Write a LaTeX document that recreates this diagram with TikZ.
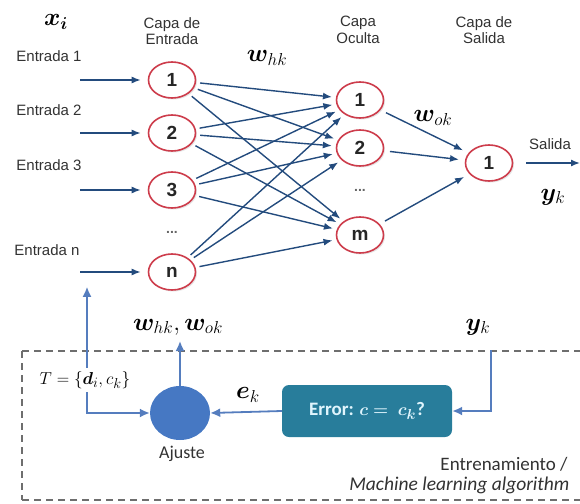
\documentclass[tikz,border=0pt]{standalone}
\usepackage{amsmath}
\usepackage{bm}
\usepackage{fontspec}
\setmainfont{Carlito}
\newfontfamily\arialfont{Liberation Sans}
\usetikzlibrary{shapes.geometric,arrows.meta,shadows}
\definecolor{neuronred}{RGB}{205,60,75}
\definecolor{arrowblue}{RGB}{35,75,125}
\definecolor{fbblue}{RGB}{85,125,190}
\definecolor{ajblue}{RGB}{70,120,195}
\definecolor{errteal}{RGB}{40,125,155}
\definecolor{labelgray}{RGB}{50,50,50}
\definecolor{dashgray}{RGB}{110,110,110}
\begin{document}
\begin{tikzpicture}[x=1pt,y=-1pt,
  neuron/.style={ellipse, draw=neuronred, line width=1.6pt, fill=white,
    minimum width=47pt, minimum height=36pt, inner sep=0pt,
    drop shadow={opacity=0.2, shadow xshift=1.5pt, shadow yshift=-1.5pt},
    font=\arialfont\bfseries\fontsize{19}{19}\selectfont, text=black!85},
  lbl/.style={font=\arialfont\fontsize{15}{16.5}\selectfont, text=labelgray, align=center},
  mathlbl/.style={font=\fontsize{27}{27}\selectfont},
  ar/.style={draw=arrowblue, line width=1.4pt, -{Latex[length=9pt,width=7pt]}},
  fb/.style={draw=fbblue, line width=1.8pt, -{Latex[length=10pt,width=9pt]}},
  dotlbl/.style={font=\arialfont\bfseries\fontsize{14}{14}\selectfont, text=black!60}
]
\useasboundingbox (0,0) rectangle (580,503);

% titles
\node[font=\fontsize{26}{26}\selectfont] (xi) at (56,22) {$\bm{x_i}$};
\node[lbl] (tin) at (172,31) {Capa de\\Entrada};
\node[lbl] (thid) at (358,30) {Capa\\Oculta};
\node[lbl] (tout) at (484,30) {Capa de\\Salida};

% input labels
\node[lbl] (l1) at (49,56) {Entrada 1};
\node[lbl] (l2) at (49,110) {Entrada 2};
\node[lbl] (l3) at (49,165) {Entrada 3};
\node[lbl] (ln) at (47,250) {Entrada n};
\coordinate (s1) at (80,80);
\coordinate (s2) at (80,133);
\coordinate (s3) at (80,190);
\coordinate (sn) at (80,272);

% neurons
\node[neuron] (i1) at (172,80) {1};
\node[neuron] (i2) at (172,133) {2};
\node[neuron] (i3) at (172,190) {3};
\node[dotlbl] (idots) at (172,232) {...};
\node[neuron] (in) at (172,272) {n};

\node[neuron] (h1) at (360,100) {1};
\node[neuron] (h2) at (360,148) {2};
\node[dotlbl] (hdots) at (360,190) {...};
\node[neuron] (hm) at (360,235) {m};

\node[neuron] (o1) at (489,163) {1};

% input arrows
\foreach \s/\t in {s1/i1,s2/i2,s3/i3,sn/in}
  \draw[ar, shorten >=7pt] (\s) -- (\t.west);

% input -> hidden
\foreach \a in {i1,i2,i3,in}
  \foreach \b in {h1,h2,hm}
    \draw[ar, shorten <=4pt, shorten >=4pt] (\a) -- (\b);

% hidden -> output
\foreach \b in {h1,h2,hm}
  \draw[ar, shorten <=6pt, shorten >=6pt] (\b) -- (o1);

% output
\coordinate (outend) at (580,163);
\draw[ar, shorten <=13pt] (o1.east) -- (outend);
\node[lbl] (salida) at (550,144) {Salida};
\node[mathlbl] (yk) at (553,197) {$\bm{y}_k$};

\node[mathlbl] (whk) at (267,58) {$\bm{w}_{hk}$};
\node[mathlbl] (wok) at (433,118) {$\bm{w}_{ok}$};

% training box
\draw[dashgray, line width=1.2pt, dash pattern=on 7pt off 5pt] (22,351) -- (590,351);
\draw[dashgray, line width=1.2pt, dash pattern=on 7pt off 5pt] (22,500) -- (590,500);
\draw[dashgray, line width=1.2pt, dash pattern=on 7pt off 5pt] (22,351) -- (22,500);

\node[font=\fontsize{19}{19}\selectfont] (T) at (85,380) {$T=\{\bm{d}_i,c_k\}$};
\node[ellipse, fill=ajblue, minimum width=60pt, minimum height=54pt, inner sep=0pt] (aj) at (180,413) {};
\node[font=\fontsize{18}{18}\selectfont, text=labelgray] (ajl) at (182,454) {Ajuste};
\coordinate (wtop) at (180,341);
\node[mathlbl] (wl) at (178,327) {$\bm{w}_{hk},\bm{w}_{ok}$};

\node[rounded corners=7pt, fill=errteal, minimum width=170pt, minimum height=52pt,
      text=white!88!cyan, font=\fontsize{19}{19}\selectfont\bfseries] (err) at (367,411)
      {Error: $\bm{c=\;c_k}$?};
\node[mathlbl] (ek) at (248,395) {$\bm{e}_k$};
\node[mathlbl] (yk2) at (478,327) {$\bm{y}_k$};
\coordinate (ykstart) at (491,350);
\coordinate (ykcorner) at (491,411);
\coordinate (tcorner) at (87,413);

\draw[fb] (T.north -| tcorner) -- ([yshift=4pt]in.south -| tcorner);
\draw[fb] (T.south -| tcorner) -- (tcorner) -- (aj.west);
\draw[fb] (aj.north) -- (wtop);
\draw[fb] (err.west) -- (aj.east);
\draw[fb] (ykstart) -- (ykcorner) -- (err.east);

\node[anchor=east, font=\fontsize{19}{19}\selectfont, text=labelgray] (tr1) at (571,464) {Entrenamiento /};
\node[anchor=east, font=\fontsize{19.5}{19.5}\selectfont\itshape, text=labelgray] (tr2) at (573,485) {Machine learning algorithm};
\end{tikzpicture}
\end{document}
